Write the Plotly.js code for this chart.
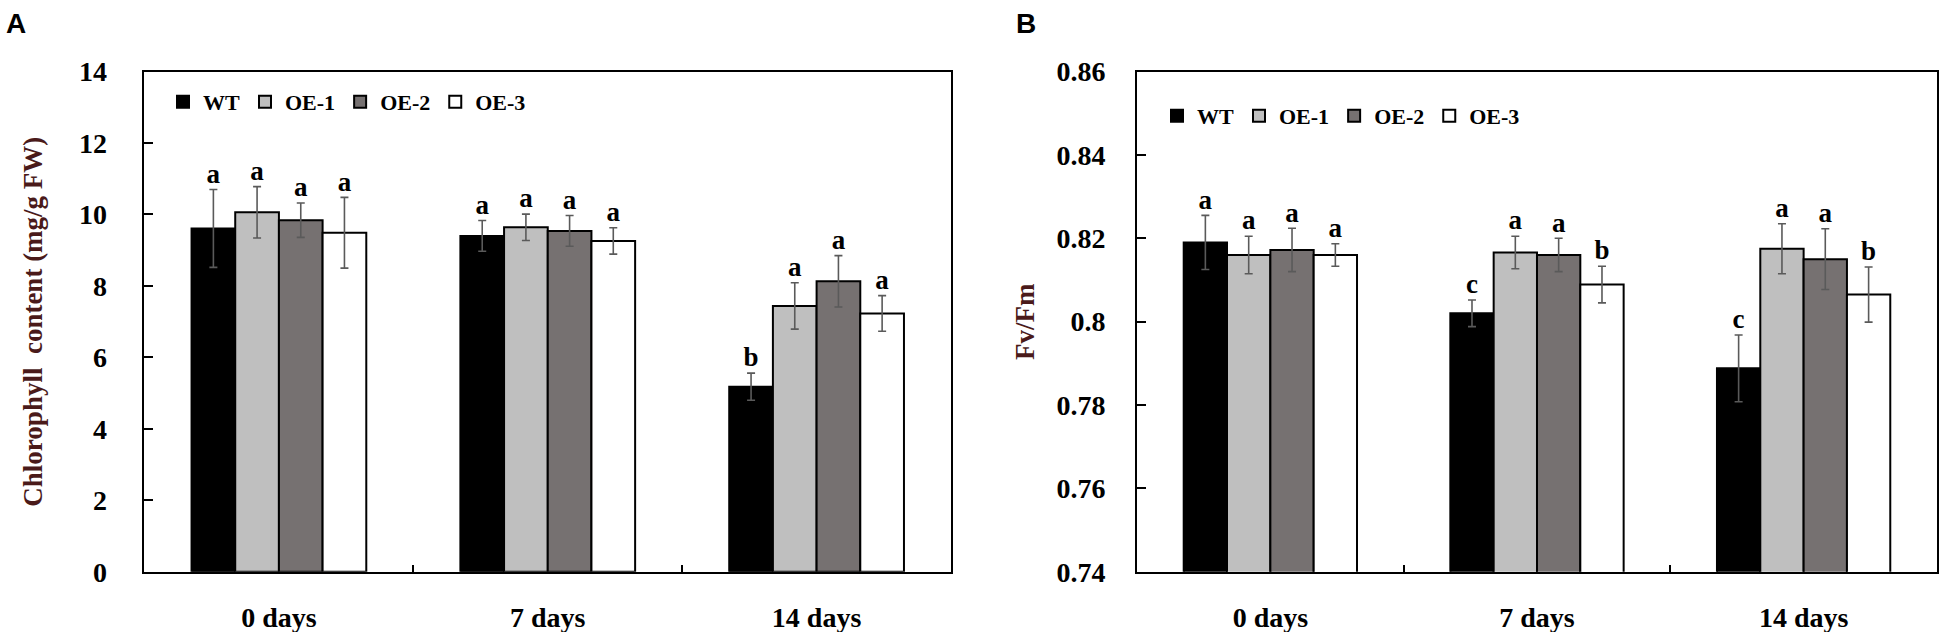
<!DOCTYPE html>
<html>
<head>
<meta charset="utf-8">
<script src="https://cdn.plot.ly/plotly-3.0.1.min.js"></script>
<style>html,body{margin:0;padding:0;background:#fff;}#chart{width:1950px;height:632px;}</style>
</head>
<body>
<div id="chart"></div>
<script>
// ---- data ----
const categories = ['0 days', '7 days', '14 days'];
const lines = ['WT', 'OE-1', 'OE-2', 'OE-3'];

// Panel A: chlorophyll content (mg/g FW)
const chlWT  = [9.61, 9.40, 5.18];
const chlOE1 = [10.06, 9.64, 7.44];
const chlOE2 = [9.84, 9.54, 8.13];
const chlOE3 = [9.49, 9.26, 7.23];
const chlErrWT  = [1.09, 0.43, 0.38];
const chlErrOE1 = [0.72, 0.37, 0.65];
const chlErrOE2 = [0.48, 0.43, 0.72];
const chlErrOE3 = [0.99, 0.37, 0.50];
const chlLetWT  = ['a', 'a', 'b'];
const chlLetOE1 = ['a', 'a', 'a'];
const chlLetOE2 = ['a', 'a', 'a'];
const chlLetOE3 = ['a', 'a', 'a'];

// Panel B: Fv/Fm
const fvWT  = [0.8190, 0.8020, 0.7888];
const fvOE1 = [0.8160, 0.8166, 0.8175];
const fvOE2 = [0.8172, 0.8160, 0.8150];
const fvOE3 = [0.8160, 0.8089, 0.8065];
const fvErrWT  = [0.0065, 0.0032, 0.0080];
const fvErrOE1 = [0.0045, 0.0039, 0.0060];
const fvErrOE2 = [0.0052, 0.0040, 0.0073];
const fvErrOE3 = [0.0027, 0.0044, 0.0066];
const fvLetWT  = ['a', 'c', 'c'];
const fvLetOE1 = ['a', 'a', 'a'];
const fvLetOE2 = ['a', 'a', 'a'];
const fvLetOE3 = ['a', 'b', 'b'];

const yTicksA = [0, 2, 4, 6, 8, 10, 12, 14];
const yTicksB = [0.74, 0.76, 0.78, 0.80, 0.82, 0.84, 0.86];

// ---- styles ----
const fills = ['#000000', '#bfbfbf', '#767171', '#ffffff'];
const serif = 'Liberation Serif, Times New Roman, serif';
const errColor = '#5a5a5a';

const panelA = {vals: [chlWT, chlOE1, chlOE2, chlOE3], errs: [chlErrWT, chlErrOE1, chlErrOE2, chlErrOE3], lets: [chlLetWT, chlLetOE1, chlLetOE2, chlLetOE3]};
const panelB = {vals: [fvWT, fvOE1, fvOE2, fvOE3], errs: [fvErrWT, fvErrOE1, fvErrOE2, fvErrOE3], lets: [fvLetWT, fvLetOE1, fvLetOE2, fvLetOE3]};

const traces = [];
function addPanel(p, xa, ya, legendId) {
  lines.forEach((name, i) => {
    traces.push({
      type: 'bar', name: name, x: categories, y: p.vals[i],
      xaxis: xa, yaxis: ya, legend: legendId, offsetgroup: name,
      marker: {color: fills[i], line: {color: '#000', width: 2}},
      error_y: {type: 'data', array: p.errs[i], visible: true, color: errColor, thickness: 1.6, width: 4},
      hoverinfo: 'skip'
    });
  });
  lines.forEach((name, i) => {
    traces.push({
      type: 'scatter', mode: 'text', x: categories,
      y: p.vals[i].map((v, k) => v + p.errs[i][k]),
      text: p.lets[i], textposition: 'top center',
      textfont: {family: serif, size: 27, color: '#000', weight: 'bold'},
      xaxis: xa, yaxis: ya, offsetgroup: name, showlegend: false, hoverinfo: 'skip', cliponaxis: false
    });
  });
}
addPanel(panelA, 'x', 'y', 'legend');
addPanel(panelB, 'x2', 'y2', 'legend2');

const yDom = [0.0954, 0.8867];
const axisCommon = {
  showline: true, linecolor: '#000', linewidth: 2, mirror: true,
  showgrid: false, zeroline: false, ticks: 'inside', tickcolor: '#000', tickwidth: 2,
  tickfont: {family: serif, size: 28, color: '#000', weight: 'bold'}
};
const titleFont = {family: serif, size: 27, color: '#4a1a1a', weight: 'bold'};
const legendFont = {family: serif, size: 22, color: '#000', weight: 'bold'};

const layout = {
  width: 1950, height: 632,
  margin: {l: 0, r: 0, t: 0, b: 0},
  paper_bgcolor: '#fff', plot_bgcolor: '#fff',
  barmode: 'group', bargap: 0.35, bargroupgap: 0,
  scattermode: 'group', scattergap: 0.35,
  xaxis: Object.assign({}, axisCommon, {domain: [0.0741, 0.4877], anchor: 'y', tickson: 'boundaries', ticklen: 7, ticklabelstandoff: 20, type: 'category'}),
  yaxis: Object.assign({}, axisCommon, {domain: yDom, anchor: 'x', range: [0, 14], tickvals: yTicksA, ticklen: 9, ticklabelstandoff: 30,
    title: {text: 'Chlorophyll  content (mg/g FW)', font: titleFont, standoff: 28}}),
  xaxis2: Object.assign({}, axisCommon, {domain: [0.5831, 0.9933], anchor: 'y2', tickson: 'boundaries', ticklen: 7, ticklabelstandoff: 20, type: 'category'}),
  yaxis2: Object.assign({}, axisCommon, {domain: yDom, anchor: 'x2', range: [0.74, 0.86], tickvals: yTicksB, ticklen: 9, ticklabelstandoff: 24,
    title: {text: 'Fv/Fm', font: titleFont, standoff: 14}}),
  legend: {orientation: 'h', x: 163 / 1950, xanchor: 'left', y: (632 - 81) / 632, yanchor: 'top', tracegroupgap: 0,
    bgcolor: 'rgba(0,0,0,0)', font: legendFont, itemclick: false},
  legend2: {orientation: 'h', x: 1157 / 1950, xanchor: 'left', y: (632 - 95) / 632, yanchor: 'top', tracegroupgap: 0,
    bgcolor: 'rgba(0,0,0,0)', font: legendFont, itemclick: false},
  annotations: [
    {text: 'A', xref: 'paper', yref: 'paper', x: 4 / 1950, y: 1 - 6 / 632, xanchor: 'left', yanchor: 'top', showarrow: false,
      font: {family: 'Liberation Sans, Arial, sans-serif', size: 28, color: '#000', weight: 'bold'}},
    {text: 'B', xref: 'paper', yref: 'paper', x: 1014 / 1950, y: 1 - 6 / 632, xanchor: 'left', yanchor: 'top', showarrow: false,
      font: {family: 'Liberation Sans, Arial, sans-serif', size: 28, color: '#000', weight: 'bold'}}
  ],
  showlegend: true
};

Plotly.newPlot('chart', traces, layout, {staticPlot: true, displayModeBar: false});
</script>
</body>
</html>
